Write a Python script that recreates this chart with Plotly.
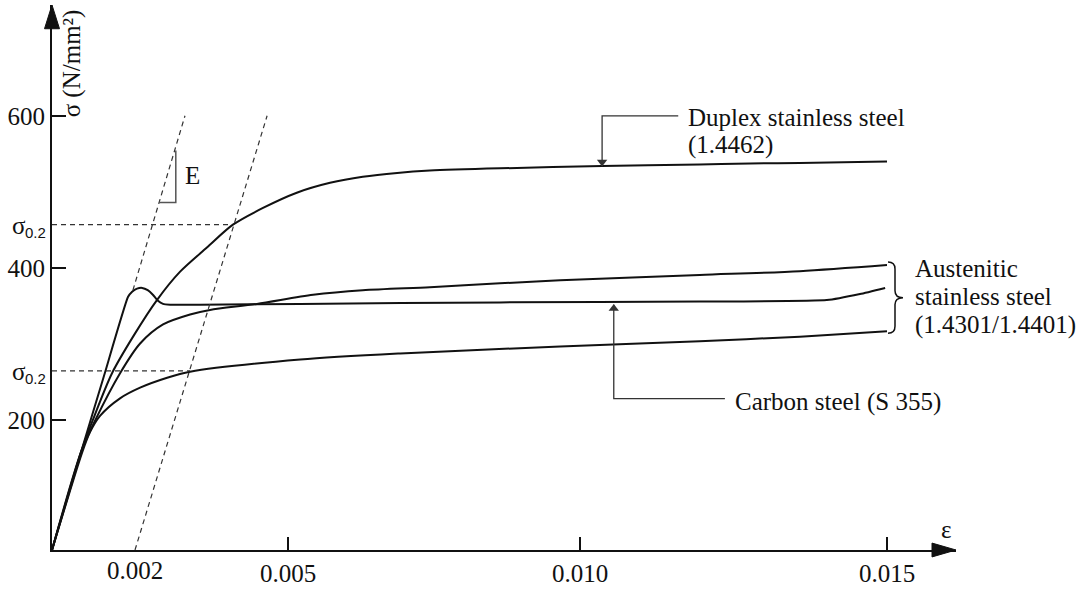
import numpy as np
import plotly.graph_objects as go

# ---------------- data (strain [-], stress [N/mm2]) ----------------
x_tick_vals = [0.005, 0.010, 0.015]
x_tick_text = ["0.005", "0.010", "0.015"]
x_extra_tick = 0.002
x_extra_text = "0.002"
y_tick_vals = [200, 400, 600]
y_tick_text = ["200", "400", "600"]

carbon_strain = [0, 0.000699, 0.00125, 0.00183, 0.00193, 0.00204, 0.00214, 0.00225,
                 0.00235, 0.00245, 0.00255, 0.00269, 0.00327, 0.00521, 0.00863,
                 0.01195, 0.01402, 0.01456, 0.01497]
carbon_stress = [0, 151, 258, 362, 369, 373, 374, 371, 365, 357, 353, 352, 352, 353,
                 355, 356, 358, 366, 374]

duplex_strain = [0, 0.000699, 0.00098, 0.001446, 0.001976, 0.00243, 0.00288, 0.00341,
                 0.00392, 0.00451, 0.00515, 0.00572, 0.00628, 0.00687, 0.00743, 0.00863,
                 0.01036, 0.01195, 0.01277, 0.01358, 0.015]
duplex_stress = [0, 151, 200, 262, 312, 358, 395, 427, 457, 479, 499, 512, 520, 525, 528,
                 531, 534, 536, 537.5, 538, 540]

aust_upper_strain = [0, 0.000699, 0.00104, 0.00164, 0.0021, 0.00255, 0.00308, 0.00347,
                     0.00439, 0.00543, 0.00628, 0.00743, 0.00863, 0.00966, 0.01195,
                     0.01358, 0.015]
aust_upper_stress = [0, 151, 200, 262, 301, 326, 339, 345, 353, 365, 371, 375, 380, 384,
                     391, 396, 404]

aust_lower_strain = [0, 0.000723, 0.000916, 0.001157, 0.001639, 0.0021, 0.00263, 0.00308,
                     0.00521, 0.00692, 0.00966, 0.01195, 0.01358, 0.015]
aust_lower_stress = [0, 150, 182, 206, 229, 243, 256, 264, 280, 288, 297, 304, 310, 317]

elastic_ext_strain = [0.00195, 0.00298]
elastic_ext_stress = [371, 600]
offset_strain = [0.002, 0.00459]
offset_stress = [0, 600]
proof_stress = [457, 265]          # sigma_0.2 of duplex / austenitic
proof_strain_end = [0.0039, 0.00308]
E_tri_strain = [0.0028, 0.0028, 0.00247]
E_tri_stress = [554.5, 486, 486]

# leader lines: [tip on curve, corner, end]
duplex_lead_strain = [0.01036, 0.01036, 0.0116]
duplex_lead_stress = [534, 600, 600]
carbon_lead_strain = [0.01055, 0.01055, 0.01236]
carbon_lead_stress = [352, 228.6, 228.6]

duplex_label = ["Duplex stainless steel", "(1.4462)"]
aust_label = ["Austenitic", "stainless steel", "(1.4301/1.4401)"]
carbon_label = "Carbon steel (S 355)"

# ---------------- schematic (non-uniform) scale of the drawing ----------------
SX = [0, 0.002, 0.005, 0.010, 0.015]
PXS = [0, 83, 236, 528, 835]
SY = [0, 200, 400, 600]
PYS = [0, 131, 285, 439]


def fx(v):
    return np.interp(v, SX, PXS)


def fy(v):
    return np.interp(v, SY, PYS)


W, H = 1078, 592
ML, MR, MT, MB = 52, 122, 5, 36
XR = W - ML - MR   # 904
YR = H - MT - MB   # 551

FONT = "Liberation Serif, Times New Roman, DejaVu Serif, serif"
SANS = "Liberation Sans, Arial, sans-serif"
BLACK = "#111111"
GREY = "#333333"
FS = 25

fig = go.Figure()

for sx, sy, name, sm in [(carbon_strain, carbon_stress, "Carbon steel (S 355)", 0.45),
                         (duplex_strain, duplex_stress, "Duplex stainless steel (1.4462)", 0.8),
                         (aust_upper_strain, aust_upper_stress, "Austenitic (upper)", 0.8),
                         (aust_lower_strain, aust_lower_stress, "Austenitic (lower)", 0.8)]:
    fig.add_trace(go.Scatter(x=fx(sx), y=fy(sy), mode="lines", name=name,
                             line=dict(color=BLACK, width=2, shape="spline", smoothing=sm),
                             hoverinfo="skip"))

dash_style = dict(color=GREY, width=1.2, dash="5px,4px")
fig.add_trace(go.Scatter(x=fx(elastic_ext_strain), y=fy(elastic_ext_stress), mode="lines",
                         line=dash_style, hoverinfo="skip"))
fig.add_trace(go.Scatter(x=fx(offset_strain), y=fy(offset_stress), mode="lines",
                         line=dash_style, hoverinfo="skip"))
for s, e in zip(proof_stress, proof_strain_end):
    fig.add_trace(go.Scatter(x=fx([0, e]), y=fy([s, s]), mode="lines",
                             line=dash_style, hoverinfo="skip"))

fig.add_trace(go.Scatter(x=fx(E_tri_strain), y=fy(E_tri_stress), mode="lines",
                         line=dict(color="#555555", width=1.5), hoverinfo="skip"))

# leader lines with arrowheads
lead = dict(color=GREY, width=1.3)
for sx, sy in [(duplex_lead_strain, duplex_lead_stress),
               (carbon_lead_strain, carbon_lead_stress)]:
    fig.add_trace(go.Scatter(x=fx(sx), y=fy(sy), mode="lines", line=lead,
                             hoverinfo="skip"))
    direction = np.sign(fy(sy[1]) - fy(sy[0]))
    fig.add_trace(go.Scatter(x=[float(fx(sx[0]))], y=[float(fy(sy[0])) + 4 * direction],
                             mode="markers", hoverinfo="skip",
                             marker=dict(symbol="triangle-down" if direction > 0 else "triangle-up",
                                         size=9, color=GREY, line=dict(width=0))))

ann = []
tf = dict(family=FONT, size=FS, color=BLACK)


def txt(x, y, t, xa="left", ya="middle", font=None, **kw):
    # x, y in drawing units (1 unit = 1 px from the origin); placed via paper refs
    d = dict(x=x / XR, y=y / YR, xref="paper", yref="paper", text=t, showarrow=False,
             xanchor=xa, yanchor=ya, font=font or tf, align="left")
    d.update(kw)
    ann.append(d)


xl = float(fx(duplex_lead_strain[2])) + 8
for i, line in enumerate(duplex_label):
    txt(xl, 437 - 28 * i, line)
txt(float(fx(carbon_lead_strain[2])) + 8, float(fy(carbon_lead_stress[2])) - 3, carbon_label)
for i, line in enumerate(aust_label):
    txt(861, 285 - 29 * i, line)
txt(140, 379, "E", xa="center")
txt(894, 21, "ε", xa="center")
txt(20, 492, "σ (N/mm²)", xa="center", textangle=-90)
for s in proof_stress:
    yy = float(fy(s))
    txt(-24, yy - 1, "σ", xa="right")
    txt(-29, yy - 8, "0.2", xa="left", font=dict(family=SANS, size=15, color=BLACK))
txt(float(fx(x_extra_tick)), -21, x_extra_text, xa="center")

# brace spanning the austenitic curves
yt = float(fy(aust_upper_stress[-1])) + 3
yb = float(fy(aust_lower_stress[-1])) - 2
ym = (yt + yb) / 2
x0 = float(fx(0.015)) + 1
x1 = x0 + 7
x2 = x0 + 15
brace = (f"M{x0},{yt} Q{x1},{yt} {x1},{yt-7} L{x1},{ym+7} Q{x1},{ym} {x2},{ym} "
         f"Q{x1},{ym} {x1},{ym-7} L{x1},{yb+7} Q{x1},{yb} {x0},{yb}")
shapes = [dict(type="path", path=brace, xref="x", yref="y",
               line=dict(color=BLACK, width=1.5))]

# axis arrowheads (paper coordinates)
shapes.append(dict(type="path", xref="paper", yref="paper",
                   path=f"M{-7.5/XR},{(YR-24)/YR} L0,1 L{7.5/XR},{(YR-24)/YR} Z",
                   fillcolor=BLACK, line=dict(color=BLACK, width=1)))
shapes.append(dict(type="path", xref="paper", yref="paper",
                   path=f"M{(XR-24)/XR},{-7/YR} L1,0 L{(XR-24)/XR},{7/YR} Z",
                   fillcolor=BLACK, line=dict(color=BLACK, width=1)))

fig.update_layout(
    width=W, height=H, autosize=False,
    margin=dict(l=ML, r=MR, t=MT, b=MB, pad=0),
    paper_bgcolor="white", plot_bgcolor="white",
    showlegend=False,
    annotations=ann, shapes=shapes,
    font=tf,
    xaxis=dict(range=[0, XR], showgrid=False, zeroline=False, showline=True,
               linecolor=BLACK, linewidth=2, ticks="inside", ticklen=13, tickwidth=2,
               tickcolor=BLACK, tickvals=fx(x_tick_vals).tolist(), ticktext=x_tick_text,
               tickfont=tf, fixedrange=True),
    yaxis=dict(range=[0, YR], showgrid=False, zeroline=False, showline=True,
               linecolor=BLACK, linewidth=2, ticks="inside", ticklen=14, tickwidth=2,
               tickcolor=BLACK, tickvals=fy(y_tick_vals).tolist(), ticktext=y_tick_text,
               tickfont=tf, fixedrange=True),
)

fig.write_html("out.html")
